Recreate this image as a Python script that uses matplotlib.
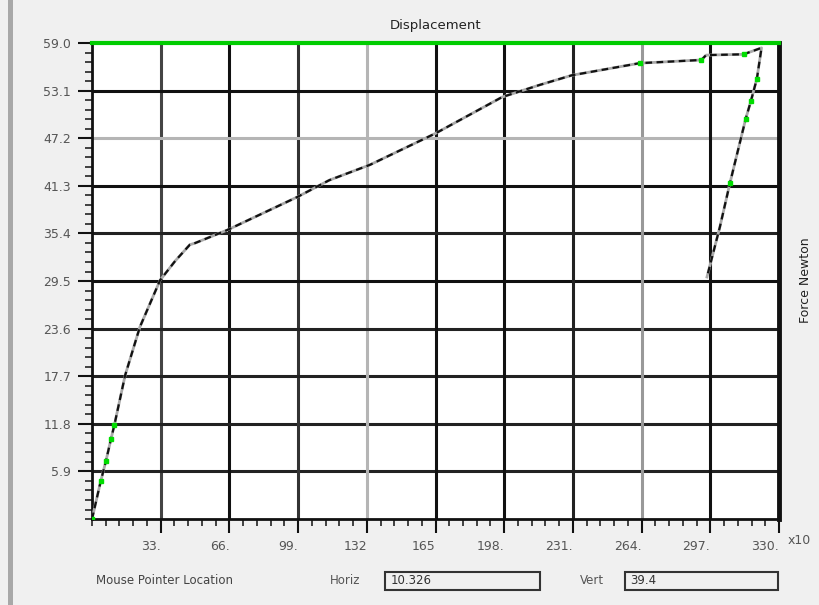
import matplotlib
matplotlib.use("Agg")
import matplotlib.pyplot as plt
from matplotlib.patches import Rectangle
from matplotlib.ticker import MultipleLocator, FixedLocator

# datos (carga y descarga)
desplazamiento = [0, 4.2, 6.7, 9.1, 10.7, 15.9, 23.0, 32.7, 40.0, 47.0, 49.5, 64.8,
                  98.5, 114.0, 133.5, 165.0, 197.0, 215.0, 230.5, 263.0, 292.7,
                  295.0, 313.0, 321.6, 319.4, 316.5, 314.0, 306.4, 301.6, 295.4]
fuerza = [0, 4.7, 7.2, 9.9, 11.6, 17.8, 23.8, 29.6, 32.0, 34.0, 34.2, 35.8,
          39.9, 42.0, 43.9, 47.8, 52.3, 53.8, 55.0, 56.5, 56.9,
          57.5, 57.6, 58.4, 54.6, 51.8, 49.6, 41.6, 36.2, 30.0]
puntosVerdes = [0, 1, 2, 3, 4, 19, 20, 22, 24, 25, 26, 27]

xTicks = [33, 66, 99, 132, 165, 198, 231, 264, 297, 330]
xEtiquetas = ["33.", "66.", "99.", "132", "165", "198.", "231.", "264.", "297.", "330."]
yTicks = [5.9, 11.8, 17.7, 23.6, 29.5, 35.4, 41.3, 47.2, 53.1, 59.0]
yEtiquetas = ["5.9", "11.8", "17.7", "23.6", "29.5", "35.4", "41.3", "47.2", "53.1", "59.0"]

fondo = "#f0f0f0"
fig = plt.figure(figsize=(8.2, 6.05), dpi=100, facecolor=fondo)
ax = fig.add_axes([0.1122, 0.1421, 0.8378, 0.7868])
ax.set_facecolor("white")
ax.set_xlim(0, 330)
ax.set_ylim(0, 59)

# rejilla, con tonos distintos como en la captura
coloresV = ["#444444", "#111111", "#333333", "#b5b5b5", "#111111",
            "#111111", "#222222", "#999999", "#111111"]
coloresH = ["#222222", "#222222", "#222222", "#222222", "#111111",
            "#222222", "#111111", "#b5b5b5", "#111111"]
for i in range(9):
    ax.axvline(xTicks[i], color=coloresV[i], lw=2.2, zorder=1)
    ax.axhline(yTicks[i], color=coloresH[i], lw=2.2, zorder=1)

ax.plot(desplazamiento, fuerza, color="#aaaaaa", lw=2, zorder=3)
ax.plot(desplazamiento, fuerza, color="#111111", lw=1.6, ls=(0, (3, 2)), zorder=4)
ax.plot([desplazamiento[i] for i in puntosVerdes], [fuerza[i] for i in puntosVerdes],
        ls="none", marker="s", ms=3, color="#00dd00", zorder=5)

ax.axhline(59, color="#00cc00", lw=3, zorder=6, clip_on=False)

for lado in ["left", "bottom"]:
    ax.spines[lado].set_linewidth(2)
    ax.spines[lado].set_color("#111111")
ax.spines["right"].set_linewidth(3.5)
ax.spines["right"].set_color("#111111")
ax.spines["top"].set_visible(False)

ax.xaxis.set_major_locator(FixedLocator(xTicks))
ax.set_xticklabels(xEtiquetas)
ax.yaxis.set_major_locator(FixedLocator(yTicks))
ax.set_yticklabels(yEtiquetas)
ax.xaxis.set_minor_locator(MultipleLocator(6.6))
ax.yaxis.set_minor_locator(MultipleLocator(1.18))
ax.tick_params(which="major", length=10, width=1.5, color="#111111",
               labelsize=9, labelcolor="#555555", pad=5)
ax.tick_params(which="minor", length=5, width=1.3, color="#333333")
for et in ax.get_xticklabels():
    et.set_horizontalalignment("right")

ax.set_title("Displacement", fontsize=9.5, color="#222222", pad=10)
fig.text(0.982, 0.537, "Force Newton", rotation=90, ha="center", va="center",
         fontsize=9, color="#222222")
fig.text(0.960, 0.107, "x10", fontsize=9, color="#555555", va="center")

# panel inferior
fig.text(0.117, 0.0397, "Mouse Pointer Location", fontsize=8.5, color="#444444", va="center")
fig.text(0.402, 0.0397, "Horiz", fontsize=8.5, color="#555555", va="center")
fig.text(0.707, 0.0397, "Vert", fontsize=8.5, color="#555555", va="center")
fig.patches.append(Rectangle((0.4695, 0.0248), 0.189, 0.0298, transform=fig.transFigure,
                             facecolor=fondo, edgecolor="#333333", lw=1.5))
fig.patches.append(Rectangle((0.762, 0.0248), 0.1866, 0.0298, transform=fig.transFigure,
                             facecolor=fondo, edgecolor="#333333", lw=1.5))
fig.text(0.476, 0.0397, "10.326", fontsize=8.5, color="#333333", va="center")
fig.text(0.768, 0.0397, "39.4", fontsize=8.5, color="#333333", va="center")

fig.patches.append(Rectangle((0.0098, 0), 0.006, 1, transform=fig.transFigure,
                             facecolor="#a8a8a8", edgecolor="none"))

fig.savefig("out.png", dpi=100, facecolor=fondo)
